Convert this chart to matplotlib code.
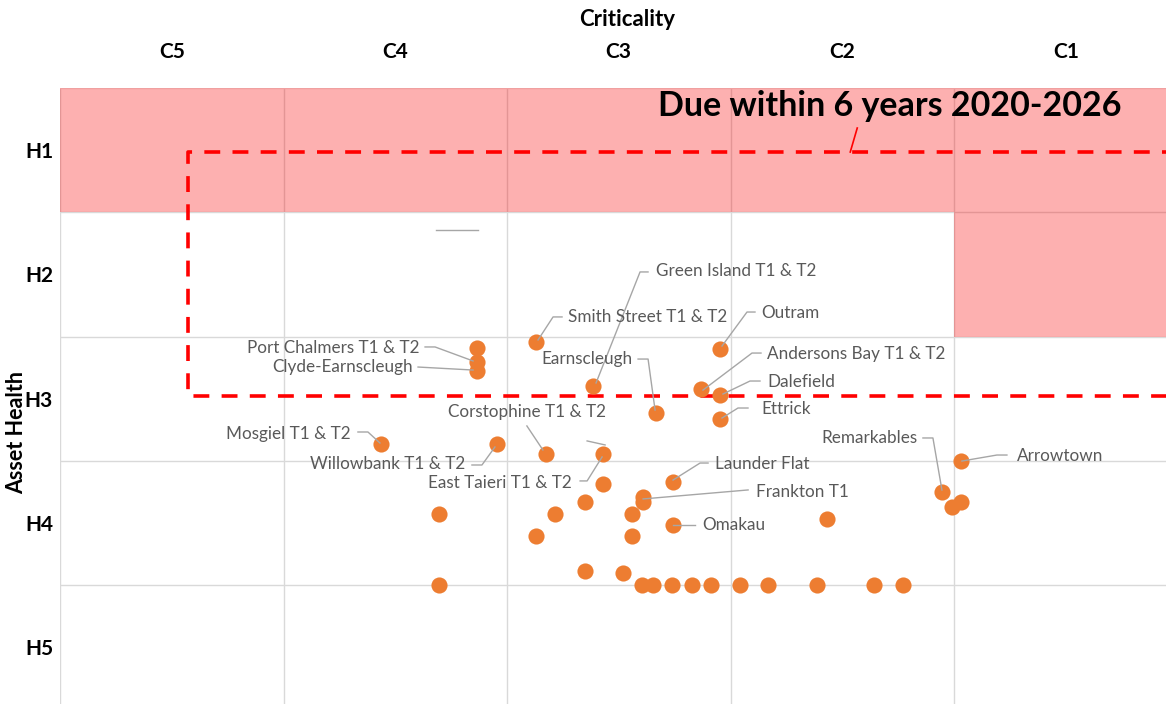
import numpy as np
import matplotlib
matplotlib.use("Agg")
import matplotlib.pyplot as plt

plt.rcParams['font.family'] = ['Lato', 'DejaVu Sans']

# Criticality runs 0..5 left to right (C5 .. C1), health runs 0..5 top to bottom (H1 .. H5)
crit_labels = ['C5', 'C4', 'C3', 'C2', 'C1']
health_labels = ['H1', 'H2', 'H3', 'H4', 'H5']

# substation positions on the matrix
names = [
    '', 'Port Chalmers T1 & T2', 'Clyde-Earnscleugh', 'Smith Street T1 & T2',
    'Green Island T1 & T2', 'Earnscleugh', 'Outram', 'Andersons Bay T1 & T2',
    'Dalefield', 'Ettrick', 'Mosgiel T1 & T2', 'Willowbank T1 & T2',
    'Corstophine T1 & T2', 'East Taieri T1 & T2', '', 'Launder Flat', '',
    'Frankton T1', '', '', '', '', 'Omakau', '', '', '', '', '',
    'Remarkables', '', '', 'Arrowtown',
    '', '', '', '', '', '', '', '', '', '', '',
]
criticality = [
    1.866, 1.866, 1.866, 2.130,
    2.385, 2.667, 2.953, 2.868,
    2.953, 2.953, 1.436, 1.955,
    2.174, 2.430, 2.430, 2.743, 2.349,
    2.609, 2.609, 1.696, 2.215, 2.559, 2.743, 2.130, 2.559, 2.349, 2.519, 3.432,
    3.946, 4.031, 3.991, 4.031,
    1.696, 2.606, 2.653, 2.740, 2.826, 2.913, 3.043, 3.170, 3.387, 3.642, 3.772,
]
health = [
    2.092, 2.204, 2.273, 2.047,
    2.397, 2.611, 2.100, 2.422,
    2.470, 2.663, 2.864, 2.864,
    2.944, 2.944, 3.186, 3.170, 3.331,
    3.290, 3.331, 3.427, 3.427, 3.427, 3.516, 3.604, 3.604, 3.886, 3.902, 3.467,
    3.250, 3.331, 3.371, 3.001,
    4.0, 4.0, 4.0, 4.0, 4.0, 4.0, 4.0, 4.0, 4.0, 4.0, 4.0,
]

# label placement: text offset (px, y down), alignment, leader vertices (px, y down)
label_layout = {
    'Port Chalmers T1 & T2': ((-58, -14), 'right', [(-52, -15), (-42, -15), (-4, -1)]),
    'Clyde-Earnscleugh': ((-64, -3.5), 'right', [(-59, -3.5), (-4, -0.5)]),
    'Smith Street T1 & T2': ((32, -25.5), 'left', [(26, -25.5), (17, -25.5), (2, -2.5)]),
    'Green Island T1 & T2': ((63, -115), 'left', [(55, -114), (47, -114), (3, -3)]),
    'Outram': ((41, -36), 'left', [(35, -37), (27, -37), (2, -3)]),
    'Earnscleugh': ((-24, -53.5), 'right', [(-18, -53.5), (-8, -53.5), (-1, -2.5)]),
    'Andersons Bay T1 & T2': ((66, -35), 'left', [(60, -36), (51, -36), (2, 1)]),
    'Dalefield': ((47, -13), 'left', [(40, -14), (30, -14), (3, -1)]),
    'Ettrick': ((41, -10), 'left', [(28, -11), (18, -11), (2, -1)]),
    'Corstophine T1 & T2': ((-19, -42), 'center', [(-19, -28), (-3, -4)]),
    'Mosgiel T1 & T2': ((-30, -10), 'right', [(-23, -12), (-13, -12), (-1, -1)]),
    'Willowbank T1 & T2': ((-32, 20), 'right', [(-25, 21), (-15, 21), (-2, 3)]),
    'East Taieri T1 & T2': ((-31, 29), 'right', [(-23, 27), (-16, 27), (-1, 3)]),
    'Launder Flat': ((42, -18), 'left', [(35, -19), (27, -19), (0, -2)]),
    'Frankton T1': ((113, -5), 'left', [(105, -7), (0, 2)]),
    'Omakau': ((29, 0), 'left', [(22, 0), (0, 0)]),
    'Remarkables': ((-24, -54), 'right', [(-19, -54), (-9, -54), (0, -2)]),
    'Arrowtown': ((56, -5), 'left', [(46, -6), (36, -6), (1, 0)]),
}
# leaders left behind without a label
stray_leaders = [
    (13, [(-16, -13), (2, -9)]),
    (0, [(-41, -118), (1, -118)]),
]

# renewal window boundary (criticality, health)
due_x = 0.573
due_top = 0.515
due_bottom = 2.478

fig = plt.figure(figsize=(11.66, 7.04), dpi=100)
ax = fig.add_axes([60 / 1166, 1 - 709.5 / 704, 1117.5 / 1166, 621.5 / 704])
ax.set_xlim(0, 5)
ax.set_ylim(5, 0)
for s in ax.spines.values():
    s.set_visible(False)

grid_c = '#D9D9D9'
for i in range(5):
    ax.axvline(i, color=grid_c, lw=1, zorder=0)
for j in range(1, 5):
    ax.axhline(j, color=grid_c, lw=1, zorder=0)

# renewal zones
ax.fill_between([0, 5], 0, 1, color='#FA0000', alpha=0.31, lw=0, zorder=1)
ax.fill_between([4, 5], 1, 2, color='#FA0000', alpha=0.31, lw=0, zorder=1)
ax.plot([0, 5], [0, 0], color='#F0A0A0', lw=1, zorder=1)

ax.plot([5, due_x, due_x, 5], [due_bottom, due_bottom, due_top, due_top],
        color='#FF0000', lw=2.6, dashes=(4.4, 3.4), zorder=2)

ax.set_xticks(np.arange(5) + 0.5)
ax.set_xticklabels(crit_labels)
ax.set_yticks(np.arange(5) + 0.5)
ax.set_yticklabels(health_labels)
ax.xaxis.tick_top()
ax.tick_params(axis='x', length=0, pad=19, labelsize=15)
ax.tick_params(axis='y', length=0, pad=5, labelsize=15)
for t in ax.get_xticklabels() + ax.get_yticklabels():
    t.set_fontweight('bold')

ax.scatter(criticality, health, s=135, color='#ED7D31', lw=0, zorder=3)


def shifted(x, y, dx, dy):
    px, py = ax.transData.transform((x, y))
    return ax.transData.inverted().transform((px + dx, py - dy))


lead_c = '#A6A6A6'
for i, name in enumerate(names):
    if not name:
        continue
    (tx, ty), ha, verts = label_layout[name]
    x, y = criticality[i], health[i]
    pts = np.array([shifted(x, y, vx, vy) for vx, vy in verts])
    ax.plot(pts[:, 0], pts[:, 1], color=lead_c, lw=1, zorder=4)
    ax.annotate(name, (x, y), xytext=(tx, -ty), textcoords='offset pixels',
                ha=ha, va='center', fontsize=12.3, color='#595959', zorder=5)

for i, verts in stray_leaders:
    pts = np.array([shifted(criticality[i], health[i], vx, vy) for vx, vy in verts])
    ax.plot(pts[:, 0], pts[:, 1], color=lead_c, lw=1, zorder=4)

# callout for the renewal window
cx, cy = 3.5, due_top
p0 = shifted(cx, cy, 8, 0)
p1 = shifted(cx, cy, 15, -24)
ax.plot([p0[0], p1[0]], [p0[1], p1[1]], color='#FF0000', lw=1.2, zorder=4)
ax.annotate('Due within 6 years 2020-2026', (cx, cy), xytext=(47, 46),
            textcoords='offset pixels', ha='center', va='center',
            fontsize=24.5, fontweight='bold', color='black', zorder=5)

fig.text(627 / 1166, 1 - 19 / 704, 'Criticality', ha='center', va='center',
         fontsize=16, fontweight='bold')
fig.text(17 / 1166, 1 - 432 / 704, 'Asset Health', ha='center', va='center',
         rotation=90, fontsize=15.5, fontweight='bold')

fig.savefig('out.png', dpi=100)
